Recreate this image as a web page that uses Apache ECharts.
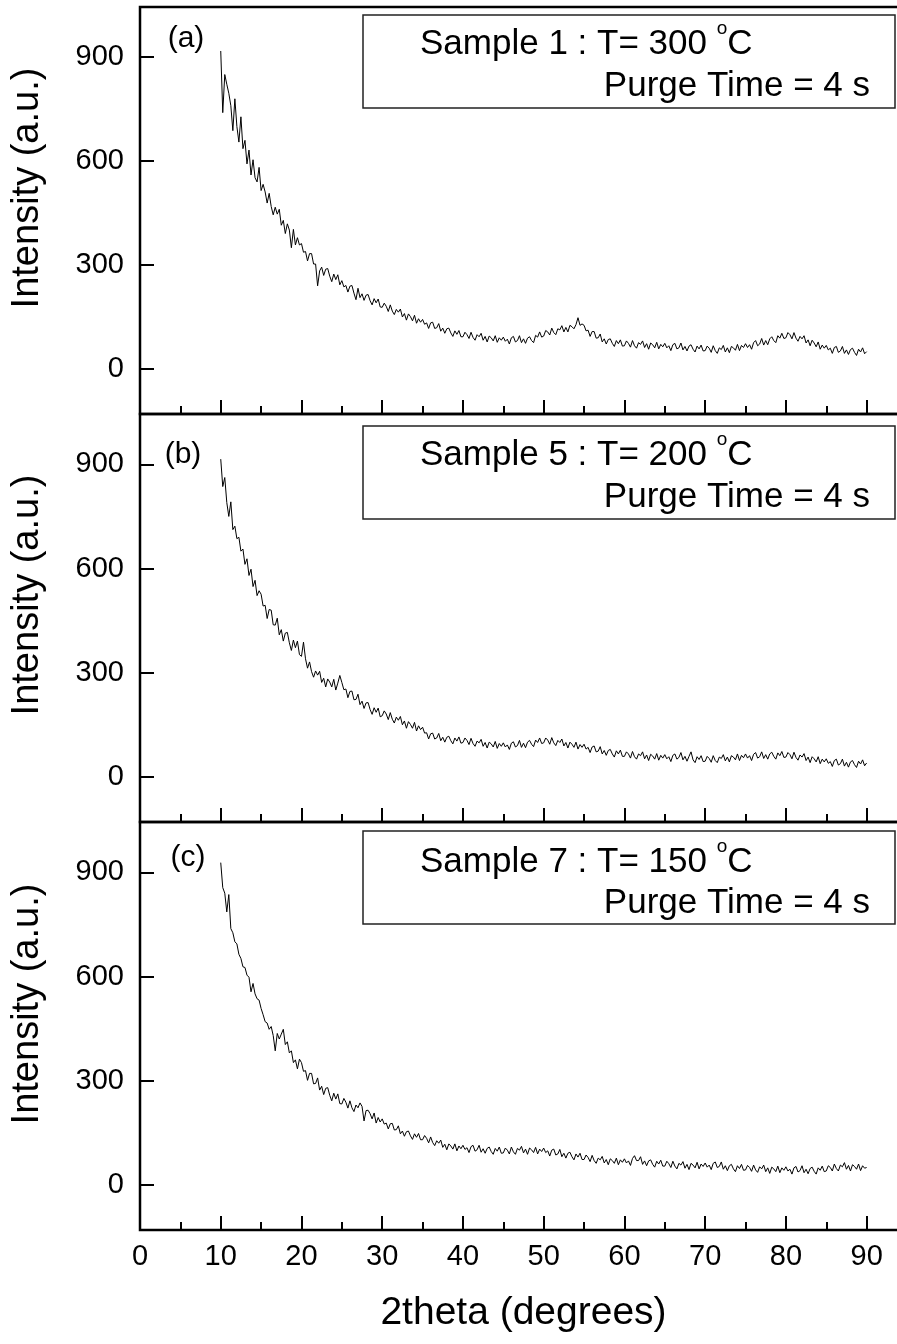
<!DOCTYPE html>
<html><head><meta charset="utf-8">
<script src="https://cdn.jsdelivr.net/npm/echarts@6/dist/echarts.min.js"></script>
<style>html,body{margin:0;padding:0;background:#fff}#c{width:897px;height:1344px}</style>
</head><body><div id="c"></div>
<script>
// ---------- data ----------
const panelLabels = ['(a)', '(b)', '(c)'];
const sampleNames = ['Sample 1', 'Sample 5', 'Sample 7'];
const temperatures = [300, 200, 150];
const purgeTimes = [4, 4, 4];
const xMajorTicks = [0, 10, 20, 30, 40, 50, 60, 70, 80, 90];
const xMinorTicks = [5, 15, 25, 35, 45, 55, 65, 75, 85];
const yMajorTicks = [0, 300, 600, 900];
const yMinorTicks = [150, 450, 750];
const xTitle = '2theta (degrees)';
const yTitle = 'Intensity (a.u.)';
const angleStart = 10, angleStep = 0.25;   // 2theta grid of the scans: 10 .. 90

const sample1 = [
918,740,850,822,796,760,688,780,700,655,728,636,660,592,632,560,604,552,540,582,
515,533,511,479,507,469,445,467,447,461,415,429,391,419,401,350,403,358,379,358,
362,337,339,312,333,333,303,303,240,283,294,270,288,290,268,252,274,258,272,243,
255,237,241,222,239,241,219,200,233,206,217,198,213,215,197,185,203,191,202,179,
178,190,181,166,185,167,157,172,164,173,150,160,141,159,151,139,155,132,145,135,
143,129,133,117,133,135,117,119,131,109,118,103,116,118,104,94,110,100,111,93,
93,106,99,88,106,91,83,99,93,103,83,94,78,95,90,81,96,77,90,83,
92,80,86,72,90,94,78,82,96,76,87,74,89,93,82,76,97,92,107,92,
95,111,107,98,118,105,99,116,113,125,107,120,107,126,122,116,128,148,126,130,
126,110,112,94,108,108,89,90,101,78,87,72,85,87,74,65,82,73,84,66,
67,81,74,63,82,67,60,76,71,81,62,73,57,75,70,61,77,58,71,64,
74,61,67,53,70,74,58,61,75,55,65,52,66,70,57,49,66,58,69,52,
53,66,60,48,67,53,45,61,56,68,49,61,47,65,61,54,71,53,68,62,
73,62,70,57,76,82,67,72,88,69,82,70,87,93,82,76,96,89,103,88,
90,105,99,87,105,89,80,94,87,96,75,84,67,83,75,64,78,57,69,60,
68,55,60,45,62,65,48,52,65,45,55,42,56,60,48,39,57,49,61,44,
50];

const sample5 = [
915,836,862,790,750,792,712,722,686,690,650,656,612,628,580,598,548,566,522,536,
526,492,494,456,482,480,438,437,457,409,424,391,414,416,386,364,394,372,391,352,
347,388,340,313,331,303,287,305,293,304,272,284,259,282,273,259,281,250,270,292,
272,251,253,228,246,247,222,223,238,208,218,197,213,214,194,180,199,186,198,173,
176,190,181,165,185,166,155,172,163,174,150,161,140,159,151,140,157,132,147,136,
143,126,127,109,124,126,109,112,125,104,114,100,114,117,104,95,112,103,115,97,
99,112,105,93,111,96,88,103,98,108,88,99,83,100,95,86,102,82,96,88,
98,86,92,79,97,101,86,90,105,85,97,84,100,105,94,87,106,99,112,96,
98,112,106,94,113,98,90,105,99,109,89,99,83,100,94,85,100,80,93,85,
94,80,85,70,86,89,72,74,87,66,76,62,76,79,66,57,75,66,77,59,
59,72,66,54,73,58,51,66,61,72,52,63,47,65,60,51,67,48,62,54,
64,52,58,44,62,66,51,56,70,49,59,45,59,72,49,41,58,50,61,44,
45,59,53,42,61,47,41,57,53,64,46,57,43,61,57,49,66,47,62,55,
66,54,61,47,65,70,54,58,72,53,64,51,66,71,59,51,69,61,73,56,
57,70,64,52,71,56,48,63,57,67,47,57,41,58,52,43,58,38,51,43,
52,39,44,30,47,51,34,38,51,31,42,28,43,47,35,27,45,37,49,32,
40];

const sample7 = [
928,856,840,786,836,738,726,700,694,664,652,628,626,604,598,556,580,550,536,532,
508,490,470,466,448,456,430,386,436,420,434,448,404,412,380,386,352,360,334,362,
352,327,329,301,321,321,291,292,308,273,284,260,278,280,258,242,264,247,262,234,
233,249,238,221,242,222,211,230,222,236,226,184,214,215,205,190,207,178,194,181,
190,175,178,161,176,177,158,159,170,147,155,140,153,155,141,131,147,137,148,130,
130,142,134,121,138,122,113,127,120,129,108,117,101,118,112,103,118,98,112,104,
114,102,107,93,110,114,97,101,114,94,104,91,105,109,96,88,105,97,109,91,
92,106,100,89,109,95,88,105,100,111,92,103,88,106,101,93,108,89,103,96,
106,93,98,83,100,103,86,89,102,81,91,77,91,94,81,72,89,80,91,73,
73,86,79,67,85,70,62,77,72,82,63,73,58,75,70,62,77,58,72,65,
75,63,69,56,76,84,70,70,81,59,69,55,69,72,59,51,68,60,71,54,
54,68,61,50,68,54,46,62,57,67,48,59,44,62,57,49,65,46,60,53,
63,51,57,44,62,66,50,53,66,45,55,41,55,59,46,38,55,47,59,42,
43,56,50,39,57,43,36,52,46,57,38,49,33,51,46,38,54,35,49,42,
52,40,45,31,49,53,37,41,55,35,45,32,47,51,39,31,49,42,54,38,
40,55,50,40,60,47,40,57,52,64,45,56,40,58,53,45,60,41,55,48,
50];

const panels = [sample1, sample5, sample7];

// ---------- layout ----------
const FONT = "'Liberation Sans', Arial, sans-serif";
const plotLeft = 140, plotWidth = 767;
const gridTops = [7, 414, 822];
const gridHeights = [407, 408, 408];
const boxTops = [15, 426, 831];
const line1Y = [44, 455, 862];
const line2Y = [86, 497, 903];
const labelPos = [[186, 39], [183, 455], [188, 858]];
const yTitleY = [188, 595, 1004];

const grid = [], xAxis = [], yAxis = [], series = [], graphic = [];
panels.forEach((vals, i) => {
  grid.push({left: plotLeft, width: plotWidth, top: gridTops[i], height: gridHeights[i],
    outerBoundsMode: 'none', containLabel: false,
    show: true, borderColor: '#000', borderWidth: 2.5, backgroundColor: 'transparent'});
  const last = i === panels.length - 1;
  xAxis.push({
    gridIndex: i, type: 'value', min: 0, max: 95, position: 'bottom',
    axisLine: {show: false, onZero: false}, splitLine: {show: false},
    axisTick: {inside: true, length: 14, customValues: xMajorTicks, lineStyle: {color: '#000', width: 2}},
    axisLabel: {show: last, customValues: xMajorTicks, fontSize: 29, color: '#000', fontFamily: FONT, margin: 12},
    name: last ? xTitle : '', nameLocation: 'middle', nameGap: 64,
    nameTextStyle: {fontSize: 39, color: '#000', fontFamily: FONT}
  });
  xAxis.push({
    gridIndex: i, type: 'value', min: 0, max: 95, position: 'bottom',
    axisLine: {show: false, onZero: false}, splitLine: {show: false}, axisLabel: {show: false},
    axisTick: {inside: true, length: 8, customValues: xMinorTicks, lineStyle: {color: '#000', width: 2}}
  });
  yAxis.push({
    gridIndex: i, type: 'value', min: -130, max: 1045,
    axisLine: {show: false, onZero: false}, splitLine: {show: false},
    axisTick: {inside: true, length: 14, customValues: yMajorTicks, lineStyle: {color: '#000', width: 2}},
    axisLabel: {customValues: yMajorTicks, fontSize: 29, color: '#000', fontFamily: FONT, margin: 16}
  });
  yAxis.push({
    gridIndex: i, type: 'value', min: -130, max: 1045,
    axisLine: {show: false, onZero: false}, splitLine: {show: false}, axisLabel: {show: false},
    axisTick: {inside: true, length: 8, customValues: yMinorTicks, lineStyle: {color: '#000', width: 2}}
  });
  series.push({
    type: 'line', xAxisIndex: 2 * i, yAxisIndex: 2 * i,
    data: vals.map((v, k) => [angleStart + k * angleStep, v]),
    showSymbol: false, symbol: 'none', silent: true,
    lineStyle: {color: '#000', width: 1}
  });
  graphic.push({type: 'rect', shape: {x: 363, y: boxTops[i], width: 532, height: 93},
    style: {fill: 'transparent', stroke: '#222', lineWidth: 1.5}, silent: true});
  graphic.push({type: 'text', x: 420, y: line1Y[i], silent: true,
    style: {text: sampleNames[i] + ' : T= ' + temperatures[i] + ' {sup|o}C',
      font: '35px ' + FONT, fill: '#000', textAlign: 'left', textVerticalAlign: 'middle', lineHeight: 50,
      rich: {sup: {fontSize: 19, fontFamily: FONT, fill: '#000', verticalAlign: 'top', lineHeight: 19}}}});
  graphic.push({type: 'text', x: 870, y: line2Y[i], silent: true,
    style: {text: 'Purge Time = ' + purgeTimes[i] + ' s', font: '35px ' + FONT, fill: '#000',
      textAlign: 'right', textVerticalAlign: 'middle'}});
  graphic.push({type: 'text', x: labelPos[i][0], y: labelPos[i][1], silent: true,
    style: {text: panelLabels[i], font: '30px ' + FONT, fill: '#000', textAlign: 'center', textVerticalAlign: 'middle'}});
  graphic.push({type: 'text', x: 28, y: yTitleY[i], rotation: Math.PI / 2, silent: true,
    style: {text: yTitle, font: '38px ' + FONT, fill: '#000', textAlign: 'center', textVerticalAlign: 'middle'}});
});

const chart = echarts.init(document.getElementById('c'), null, {renderer: 'canvas'});
chart.setOption({animation: false, grid, xAxis, yAxis, series, graphic});
</script>
</body></html>
